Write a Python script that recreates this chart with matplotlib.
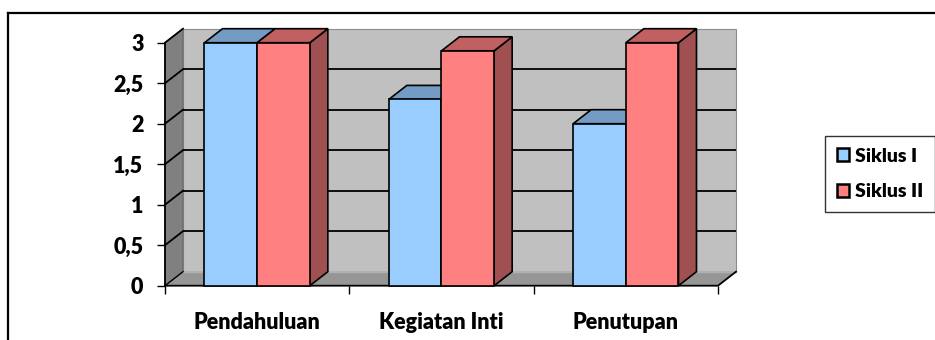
import matplotlib
matplotlib.use("Agg")
import matplotlib.pyplot as plt
from matplotlib.patches import Polygon, Rectangle, Patch
from matplotlib.lines import Line2D

# ---- data ----
categories = ["Pendahuluan", "Kegiatan Inti", "Penutupan"]
siklus_1 = [3.0, 2.3, 2.0]
siklus_2 = [3.0, 2.9, 3.0]
series_names = ["Siklus I", "Siklus II"]
y_ticks = [0, 0.5, 1, 1.5, 2, 2.5, 3]
y_tick_labels = ["0", "0,5", "1", "1,5", "2", "2,5", "3"]

# ---- style ----
FONT = "Lato"
W, H = 935, 340
BLUE_FRONT, BLUE_TOP = "#99CCFF", "#739BC4"
RED_FRONT, RED_TOP, RED_SIDE = "#FF8080", "#C06060", "#A05050"
WALL_BACK, WALL_LEFT, FLOOR = "#C0C0C0", "#808080", "#969696"

fig = plt.figure(figsize=(W / 100, H / 100), dpi=100)
fig.patch.set_facecolor("white")

# plot area (front plane) in pixels
px_left, px_right = 165, 718
px_bottom, px_top = 285.7, 42.7
ax = fig.add_axes([px_left / W, 1 - px_bottom / H,
                   (px_right - px_left) / W, (px_bottom - px_top) / H])
ax.set_xlim(-0.5, 2.5)
ax.set_ylim(0, 3)
ax.set_facecolor("none")
for s in ax.spines.values():
    s.set_visible(False)

# depth offset of the 3D box, in data units
x_per_px = 3.0 / (px_right - px_left)
y_per_px = 3.0 / (px_bottom - px_top)
dx = 18 * x_per_px
dy = 14 * y_per_px

x0, x1 = -0.5, 2.5
ymax = 3.0

def poly(pts, fc, ec="none", lw=0.0, z=1):
    p = Polygon(pts, closed=True, facecolor=fc, edgecolor=ec, linewidth=lw,
                zorder=z, clip_on=False, joinstyle="miter")
    ax.add_patch(p)
    return p

# back wall, left wall, floor
poly([(x0 + dx, dy), (x1 + dx, dy), (x1 + dx, ymax + dy), (x0 + dx, ymax + dy)],
     WALL_BACK, ec="#8C8C8C", lw=0.8, z=1)
poly([(x0, 0), (x0 + dx, dy), (x0 + dx, ymax + dy), (x0, ymax)],
     WALL_LEFT, ec="#606060", lw=0.6, z=1)
poly([(x0, 0), (x1, 0), (x1 + dx, dy), (x0 + dx, dy)], FLOOR, z=1)

# gridlines across the walls
for v in y_ticks[1:]:
    if v < ymax:
        ax.plot([x0 + dx, x1 + dx], [v + dy, v + dy], color="black",
                lw=1.3, zorder=2, clip_on=False, solid_capstyle="butt")
    ax.plot([x0, x0 + dx], [v, v + dy], color="black", lw=1.3, zorder=2,
            clip_on=False)
ax.plot([x0 + dx, x1 + dx], [dy, dy], color="#B0B0B0", lw=1.0, zorder=2,
        clip_on=False)

# floor edges and value axis line
ax.plot([x0, x1, x1 + dx], [0, 0, dy], color="black", lw=1.3, zorder=2,
        clip_on=False)
ax.plot([x0, x0 + dx], [0, dy], color="black", lw=1.0, zorder=2, clip_on=False)
ax.plot([x0, x0], [0, ymax], color="black", lw=1.3, zorder=2, clip_on=False)

# 3D bars
bw = 1 / 3.5
for i in range(len(categories)):
    for j, (vals, front, top, side) in enumerate(
            [(siklus_1, BLUE_FRONT, BLUE_TOP, RED_SIDE),
             (siklus_2, RED_FRONT, RED_TOP, RED_SIDE)]):
        v = vals[i]
        bx = i - bw + j * bw
        z = 3 + i * 2 + j
        poly([(bx + bw, 0), (bx + bw + dx, dy), (bx + bw + dx, v + dy), (bx + bw, v)],
             side, ec="black", lw=1.2, z=z)
        poly([(bx, v), (bx + bw, v), (bx + bw + dx, v + dy), (bx + dx, v + dy)],
             top, ec="black", lw=1.2, z=z)
        ax.add_patch(Rectangle((bx, 0), bw, v, facecolor=front, edgecolor="black",
                               linewidth=1.2, zorder=z + 0.5, clip_on=False,
                               joinstyle="miter"))

# ticks and labels
ax.set_yticks(y_ticks)
ax.set_yticklabels(y_tick_labels)
ax.set_xticks([0, 1, 2])
ax.set_xticklabels(categories)
ax.xaxis.set_minor_locator(matplotlib.ticker.FixedLocator([-0.5, 0.5, 1.5, 2.5]))
ax.tick_params(axis="x", which="major", length=0, pad=19)
ax.tick_params(axis="x", which="minor", length=5.5, width=1.0, color="black")
ax.tick_params(axis="y", length=5.5, width=1.0, color="black", pad=10)
for lab in ax.get_xticklabels() + ax.get_yticklabels():
    lab.set_fontfamily(FONT)
    lab.set_fontweight("heavy")
    lab.set_fontsize(15.5)

# legend
handles = [Patch(facecolor=BLUE_FRONT, edgecolor="black", linewidth=1.8),
           Patch(facecolor=RED_FRONT, edgecolor="black", linewidth=1.8)]
leg = fig.legend(handles, series_names, loc="center left",
                 bbox_to_anchor=(825 / W, 1 - 174 / H),
                 prop={"family": FONT, "weight": "heavy", "size": 14},
                 frameon=True, fancybox=False, borderpad=0.6,
                 handlelength=0.65, handleheight=0.65, handletextpad=0.3,
                 labelspacing=0.95, borderaxespad=0)
leg.get_frame().set_edgecolor("black")
leg.get_frame().set_linewidth(1.0)

# outer chart border (continues beyond the right and bottom edges)
fig.add_artist(Line2D([8.3 / W, 1.0], [1 - 12.7 / H, 1 - 12.7 / H],
                      color="black", lw=1.6, transform=fig.transFigure))
fig.add_artist(Line2D([8.3 / W, 8.3 / W], [1 - 12.7 / H, 0],
                      color="black", lw=1.6, transform=fig.transFigure))

fig.savefig("out.png", dpi=100)
